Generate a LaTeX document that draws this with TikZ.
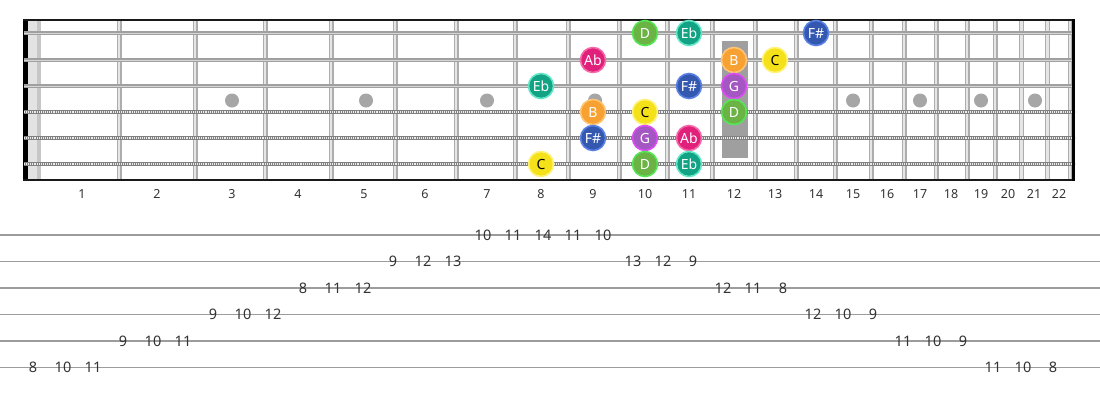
\documentclass[tikz,border=0pt]{standalone}
\usepackage{fontspec}
\setmainfont{Noto Sans}
\definecolor{dFill}{HTML}{6AB344}\definecolor{dRim}{HTML}{55E655}
\definecolor{eFill}{HTML}{12A384}\definecolor{eRim}{HTML}{62E6C6}
\definecolor{aFill}{HTML}{E0207A}\definecolor{aRim}{HTML}{F46AA8}
\definecolor{cFill}{HTML}{F5E11A}\definecolor{cRim}{HTML}{FFF27A}
\definecolor{bFill}{HTML}{F7A133}\definecolor{bRim}{HTML}{FFC474}
\definecolor{gFill}{HTML}{A457C2}\definecolor{gRim}{HTML}{DC4CF2}
\definecolor{fFill}{HTML}{3457B0}\definecolor{fRim}{HTML}{5A82E6}
\definecolor{fretgray}{HTML}{ADADAD}
\definecolor{fretlight}{HTML}{E6E6E6}
\definecolor{strgray}{HTML}{A0A0A0}
\definecolor{strlight}{HTML}{D6D6D6}
\definecolor{inlay}{HTML}{A6A6A6}
\definecolor{txt}{HTML}{333333}
\definecolor{tabline}{HTML}{9C9C9C}
\begin{document}
\begin{tikzpicture}[x=1pt,y=-1pt,
  notebase/.style={circle,minimum size=25pt,inner sep=0pt,line width=1.6pt,font=\fontsize{14}{14}\selectfont},
  nD/.style={notebase,fill=dFill,draw=dRim,text=white},
  nE/.style={notebase,fill=eFill,draw=eRim,text=white},
  nA/.style={notebase,fill=aFill,draw=aRim,text=white},
  nC/.style={notebase,fill=cFill,draw=cRim,text=black},
  nB/.style={notebase,fill=bFill,draw=bRim,text=white},
  nG/.style={notebase,fill=gFill,draw=gRim,text=white},
  nF/.style={notebase,fill=fFill,draw=fRim,text=white},
  fretnum/.style={font=\fontsize{12.5}{13}\selectfont,text=txt,inner sep=0pt},
  tabnum/.style={font=\fontsize{14.5}{15}\selectfont,text=txt,inner sep=0pt},
  fretband/.style={fill=fretlight},
  fretwire/.style={draw=fretgray,line width=1.2pt},
  plainstring/.style={draw=strgray,line width=3.2pt},
  plaincore/.style={draw=strlight,line width=1pt},
  woundbase/.style={draw=strgray!80!black,line width=4.5pt},
  woundtex/.style={draw=white!85!gray,line width=2.8pt,dash pattern=on 0.8pt off 1.1pt},
  tabstaff/.style={draw=tabline,line width=1.8pt}]
\useasboundingbox (0,0) rectangle (1100,400);
% nut area
\fill[black] (23,20) rectangle (27.5,180);
\fill[gray!22] (27.5,20) rectangle (41,180);
\fill[gray!45] (36.5,20) rectangle (41,180);
% fret wires
\foreach \x in {119,195,265,331,395,456,515,568,619,667,712,755,796,835,871,904,936,967,995,1021.5,1047.5,1070}{
  \fill[fretband] (\x-1.9,20) rectangle (\x+1.9,180);
  \draw[fretwire] (\x-1.9,20) -- (\x-1.9,180);
  \draw[fretwire] (\x+1.9,20) -- (\x+1.9,180);
}
% inlays
\foreach \x in {232,366,487,595,853,920,981,1035}{
  \fill[inlay] (\x,100.5) circle (7pt);
}
\fill[gray!75] (722,41) rectangle (748,158);
% strings
\foreach \y in {33,60,86}{
  \draw[plainstring] (24,\y) -- (1075,\y);
  \draw[plaincore] (24,\y) -- (1075,\y);
}
\foreach \y in {112,138,164}{
  \draw[woundbase] (24,\y) -- (1075,\y);
  \draw[woundtex] (24,\y) -- (1075,\y);
}
% borders
\draw[black!90,line width=2.2pt] (23,20) -- (1075,20);
\draw[black!90,line width=2.2pt] (23,180) -- (1075,180);
\draw[black,line width=2.5pt] (1073.5,19) -- (1073.5,181);
% notes
\node[nD] (s1f10) at (645,33) {D};
\node[nE] (s1f11) at (689,33) {Eb};
\node[nF] (s1f14) at (816,33) {F\#};
\node[nA] (s2f9) at (593,60) {Ab};
\node[nB] (s2f12) at (734,60) {B};
\node[nC] (s2f13) at (775,60) {C};
\node[nE] (s3f8) at (541,86) {Eb};
\node[nF] (s3f11) at (689,86) {F\#};
\node[nG] (s3f12) at (734,86) {G};
\node[nB] (s4f9) at (593,112) {B};
\node[nC] (s4f10) at (645,112) {C};
\node[nD] (s4f12) at (734,112) {D};
\node[nF] (s5f9) at (593,138) {F\#};
\node[nG] (s5f10) at (645,138) {G};
\node[nA] (s5f11) at (689,138) {Ab};
\node[nC] (s6f8) at (541,164) {C};
\node[nD] (s6f10) at (645,164) {D};
\node[nE] (s6f11) at (689,164) {Eb};
% fret numbers
\foreach \n/\x in {1/82,2/157,3/232,4/298,5/364,6/425,7/487,8/541,9/593,10/645,11/689,12/734,13/775,14/816,15/853,16/887,17/920,18/951,19/981,20/1008,21/1034,22/1059}{
  \node[fretnum] (fn\n) at (\x,194) {\n};
}
% tab staff
\foreach \s in {1,...,6}{
  \draw[tabstaff] (0,{235+(\s-1)*26.5}) -- (1100,{235+(\s-1)*26.5});
}
\foreach \k/\s/\t in {0/6/8,1/6/10,2/6/11,3/5/9,4/5/10,5/5/11,6/4/9,7/4/10,8/4/12,9/3/8,10/3/11,11/3/12,12/2/9,13/2/12,14/2/13,15/1/10,16/1/11,17/1/14,18/1/11,19/1/10,20/2/13,21/2/12,22/2/9,23/3/12,24/3/11,25/3/8,26/4/12,27/4/10,28/4/9,29/5/11,30/5/10,31/5/9,32/6/11,33/6/10,34/6/8}{
  \node[tabnum] (t\k) at ({33+30*\k},{235+(\s-1)*26.5}) {\t};
}
\end{tikzpicture}
\end{document}
